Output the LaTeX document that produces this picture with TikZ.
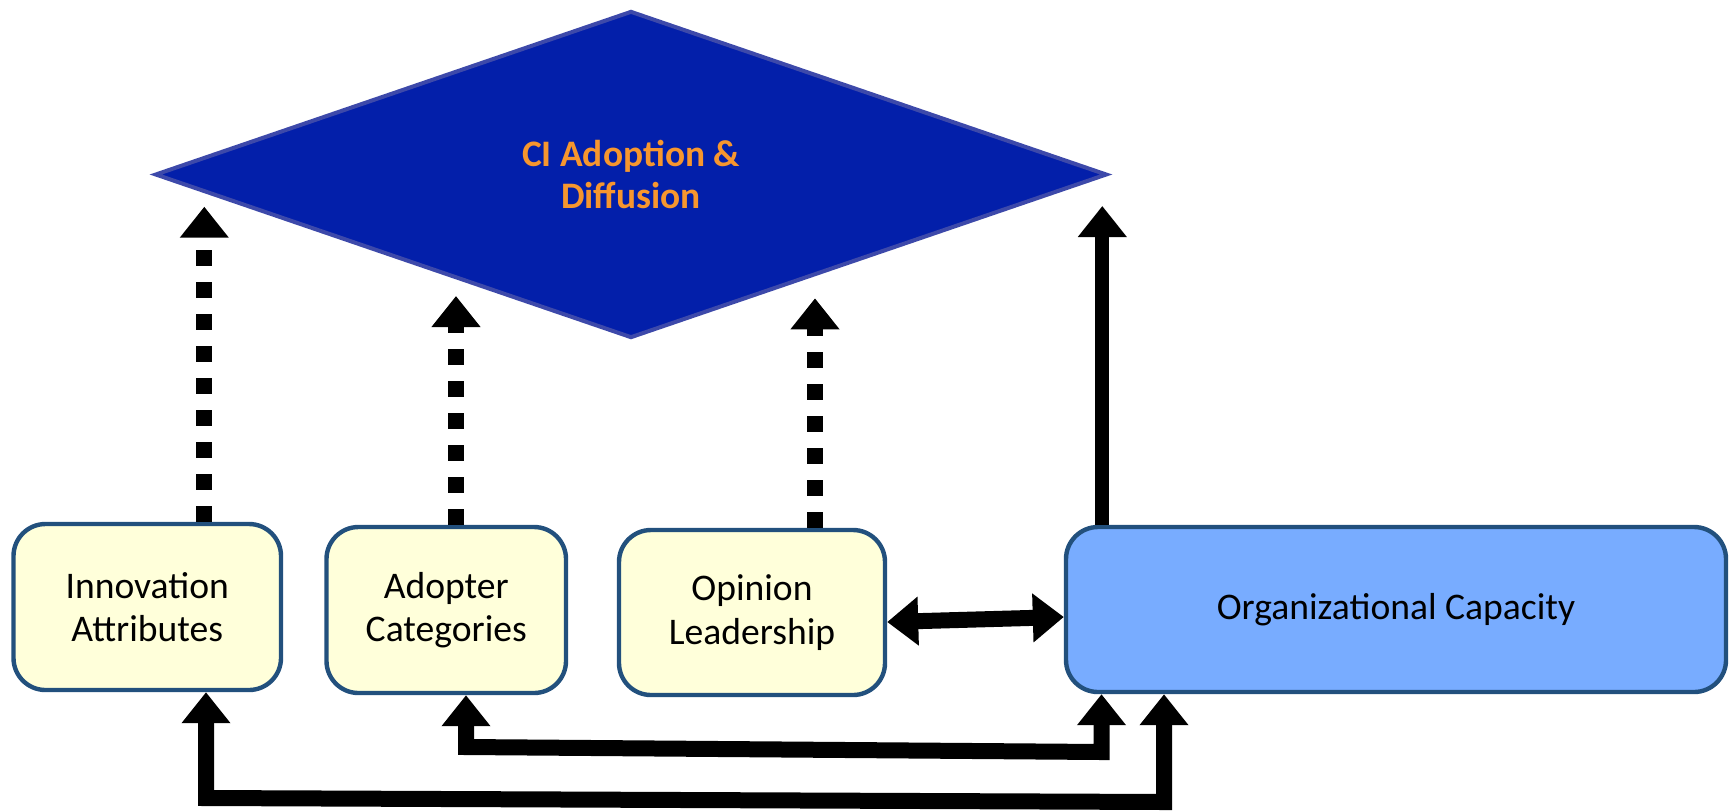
\documentclass[tikz,border=0pt]{standalone}
\usepackage{fontspec}
\setmainfont{Carlito}
\usetikzlibrary{arrows.meta,shapes.geometric}
\definecolor{diamondfill}{HTML}{031FAA}
\definecolor{diamondline}{HTML}{3D49AA}
\definecolor{titleorange}{HTML}{F7962E}
\definecolor{boxline}{HTML}{22507D}
\definecolor{yellowfill}{HTML}{FFFFDA}
\definecolor{orgfill}{HTML}{78ACFF}
\begin{document}
\begin{tikzpicture}[x=0.5pt,y=-0.5pt,
  box/.style={rectangle, rounded corners=16pt, draw=boxline, line width=2.2pt,
    align=center, inner sep=0pt, font=\fontsize{18.8}{21.6}\selectfont},
  ybox/.style={box, fill=yellowfill},
  headtip/.style={-{Triangle[width=23.5pt,length=15.5pt]}},
  dasharrow/.style={headtip, line width=8pt, dash pattern=on 8pt off 8pt},
  solidarrow/.style={headtip, line width=7pt},
  dblarrow/.style={{Triangle[width=23.5pt,length=15.5pt]}-{Triangle[width=23.5pt,length=15.5pt]}, line width=8pt, line join=miter},
]
\useasboundingbox (0,0) rectangle (1733,810);

\node[diamond, draw=diamondline, fill=diamondfill, line width=2pt,
  minimum width=476pt, minimum height=163.5pt, inner sep=0pt,
  text=titleorange, align=center, font=\fontsize{18.7}{21.4}\selectfont\bfseries]
  (ci) at (631,174.5) {CI Adoption \&\\Diffusion};

\node[ybox, minimum width=133.75pt, minimum height=83pt] (inno) at (147.25,607) {Innovation\\Attributes};
\node[ybox, minimum width=119.75pt, minimum height=83pt] (adop) at (446.25,610) {Adopter\\Categories};
\node[ybox, minimum width=133pt, minimum height=82.5pt] (opin) at (752,612.5) {Opinion\\Leadership};
\node[box, fill=orgfill, minimum width=330pt, minimum height=82.5pt] (org) at (1396,609.5) {Organizational Capacity};

% upward arrows to the diamond
\coordinate (t1) at (204.3,206.7);
\coordinate (t2) at (456,296);
\coordinate (t3) at (815,298.3);
\coordinate (t4) at (1102.3,206);
\draw[dasharrow] (inno.north -| t1) -- (t1);
\draw[dasharrow] (adop.north -| t2) -- (t2);
\draw[dasharrow] (opin.north -| t3) -- (t3);
\draw[solidarrow] (org.north -| t4) -- (t4);

% double arrow opinion <-> org
\coordinate (dl) at (0,622);
\coordinate (dr) at (0,617);
\draw[dblarrow] (opin.east |- dl) -- (org.west |- dr);

% bottom feedback arrows
\coordinate (a1) at (466,747);
\coordinate (a2) at (1101.5,752);
\coordinate (b1) at (206,798);
\coordinate (b2) at (1164,802);
\draw[dblarrow] (adop.south -| a1) -- (a1) -- (a2) -- (org.south -| a2);
\draw[dblarrow] (inno.south -| b1) -- (b1) -- (b2) -- (org.south -| b2);
\end{tikzpicture}
\end{document}
